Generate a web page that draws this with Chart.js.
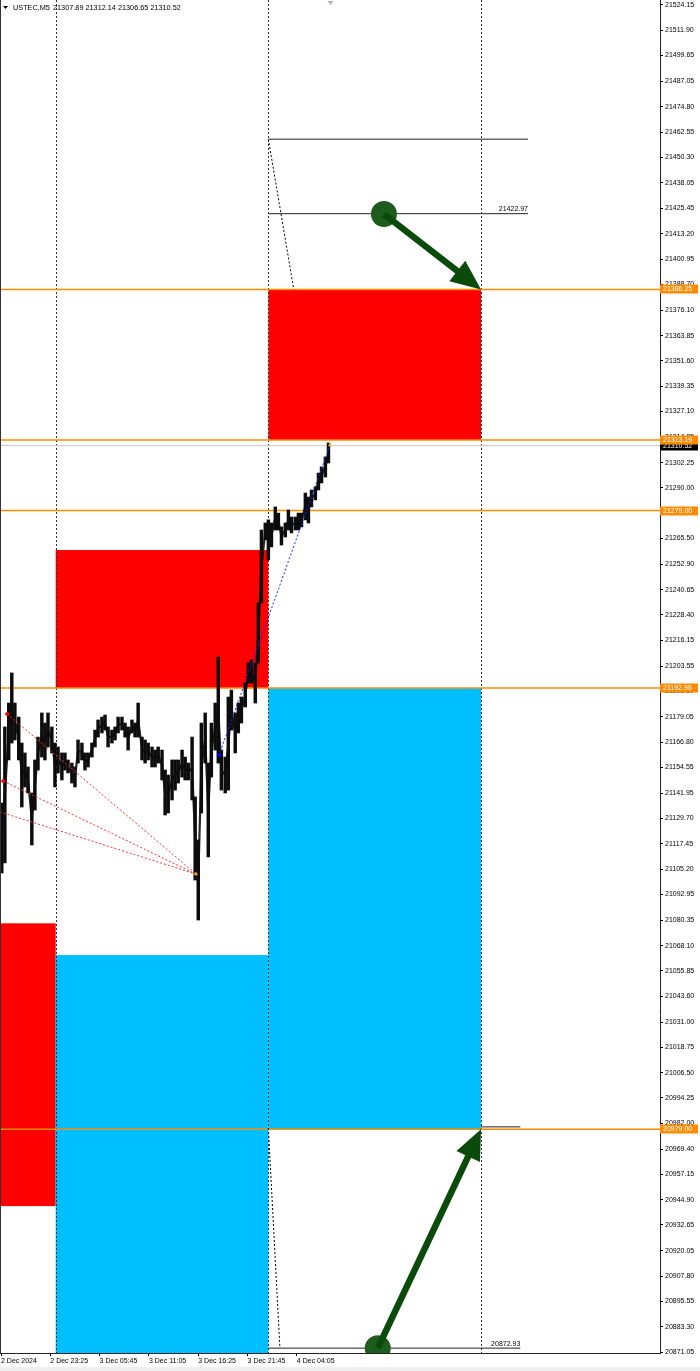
<!DOCTYPE html>
<html><head><meta charset="utf-8">
<script src="https://cdn.jsdelivr.net/npm/chart.js@4.4.1/dist/chart.umd.min.js"></script>
<style>html,body{margin:0;padding:0;background:#fff;overflow:hidden}#wrap{position:relative;width:700px;height:1371px}</style>
</head><body><div id="wrap"><canvas id="c" width="700" height="1371"></canvas></div>
<script>
// ---------- data ----------
const symbolName = 'USTEC,M5';
const lastOHLC = [21307.89, 21312.14, 21306.65, 21310.52];

const yTickValues = [21524.15,21511.90,21499.65,21487.05,21474.80,21462.55,21450.30,21438.05,21425.45,21413.20,21400.95,21388.70,21376.10,21363.85,21351.60,21339.35,21327.10,21314.85,21302.25,21290.00,21277.75,21265.50,21252.90,21240.65,21228.40,21216.15,21203.55,21191.30,21179.05,21166.80,21154.55,21141.95,21129.70,21117.45,21105.20,21092.95,21080.35,21068.10,21055.85,21043.60,21031.00,21018.75,21006.50,20994.25,20982.00,20969.40,20957.15,20944.90,20932.65,20920.05,20907.80,20895.55,20883.30,20871.05];

const xTickBars = [0,64,128,192,256,320,384];
const xTickLabels = ['2 Dec 2024','2 Dec 23:25','3 Dec 05:45','3 Dec 11:05','3 Dec 16:25','3 Dec 21:45','4 Dec 04:05'];
const daySeparatorBars = [71,347,623];

const priceBars = [1,5,10,14,18,23,27,31,35,40,44,48,53,57,61,66,70,74,79,83,87,92,96,100,105,109,113,118,122,126,131,135,139,144,148,152,157,161,165,170,174,178,183,187,191,196,200,204,209,213,217,222,226,230,235,239,243,248,252,256,260,265,269,273,278,282,286,291,295,299,304,308,312,317,321,325,330,334,338,343,347,351,356,360,364,369,373,377,382,386,390,395,399,403,408,412,416,421,425];
const priceHigh = [21137.2,21174.1,21185.7,21200.3,21185.7,21178.9,21166.3,21161.5,21154.7,21142.1,
21158.1,21169.2,21180.9,21176.0,21180.9,21174.1,21166.3,21164.4,21161.5,21161.5,
21158.1,21156.6,21154.7,21167.8,21166.3,21161.5,21161.5,21166.3,21172.6,21177.5,
21178.9,21179.9,21174.1,21172.6,21174.1,21178.9,21178.9,21176.0,21174.1,21177.5,
21176.0,21185.7,21169.2,21167.8,21166.3,21164.4,21162.9,21164.4,21162.9,21153.2,
21150.8,21158.1,21158.1,21158.1,21162.9,21159.5,21156.6,21169.2,21140.2,21119.3,
21176.0,21180.9,21156.6,21176.0,21185.7,21208.0,21162.9,21159.5,21188.6,21192.0,
21180.9,21185.7,21188.6,21195.4,21205.1,21206.6,21205.1,21234.2,21269.6,21273.0,
21274.5,21273.0,21280.8,21277.8,21271.1,21273.0,21279.3,21275.9,21275.9,21277.8,
21277.8,21287.5,21285.6,21289.0,21290.5,21297.2,21300.2,21305.0,21311.8];
const priceLow = [21103.3,21108.2,21158.1,21166.3,21167.8,21158.1,21135.3,21145.0,21142.1,21116.9,
21133.8,21153.2,21159.5,21158.1,21164.4,21161.5,21145.0,21151.8,21148.4,21153.2,
21151.8,21146.9,21145.0,21156.6,21158.1,21153.2,21154.7,21159.5,21164.4,21169.2,
21171.2,21172.6,21164.4,21166.3,21167.8,21171.2,21172.6,21169.2,21162.9,21171.2,
21169.2,21169.2,21158.1,21156.6,21158.1,21154.7,21154.7,21156.6,21148.4,21131.4,
21132.4,21138.7,21143.5,21146.9,21149.8,21148.4,21148.4,21138.7,21099.9,21080.5,
21132.4,21156.6,21111.1,21149.8,21162.9,21156.6,21143.5,21142.1,21143.5,21172.6,
21161.5,21171.2,21176.0,21183.8,21195.4,21195.4,21185.7,21205.1,21234.2,21264.8,
21255.1,21261.4,21269.6,21269.6,21262.3,21266.2,21269.6,21268.2,21269.6,21269.6,
21271.1,21274.5,21273.0,21280.8,21284.2,21289.0,21292.4,21295.3,21302.1];

const levelPrices = [21386.25, 21313.19, 21279.00, 21192.96, 20979.00];
const bidPrice = 21310.52;

const zoneStartBar = [347, 71, -10, 71, 347];
const zoneEndBar   = [623, 347, 71, 347, 623];
const zoneTop      = [21386.25, 21259.9, 21078.9, 21063.5, 21192.96];
const zoneBottom   = [21313.19, 21192.96, 20941.8, 20850.0, 20979.00];
const zoneType     = ['sell','sell','sell','buy','buy'];

const trendStartBar = [347, 347, 623, 347];
const trendEndBar   = [684, 684, 674, 674];
const trendPrice    = [21459.1, 21422.97, 20980.2, 20872.93];
const trendText     = ['', '21422.97', '', '20872.93'];

const connectorFrom = [[347, 21459.1], [347, 20979.6]];
const connectorTo   = [[380, 21386.25], [362, 20872.93]];

const redLineFrom = [[8, 21180.4], [3, 21147.9], [-1.3, 21132.9]];
const redLineTo   = [253, 21102.8];
const blueLineFrom = [283, 21160.5];
const blueLineTo   = [427, 21310.8];

const arrowFrom = [[497, 21422.8], [489, 20872.93]];
const arrowTo   = [[623, 21386.25], [623, 20979.00]];

const X_MIN = -1.3, X_MAX = 855.3;
const Y_MIN = 20870.57, Y_MAX = 21526.57;

// ---------- chart ----------
const FONT = 'Liberation Sans, Arial, sans-serif';
const hline = (p, x0 = X_MIN, x1 = X_MAX) => [{x: x0, y: p}, {x: x1, y: p}];
const seg = (a, b) => [{x: a[0], y: a[1]}, {x: b[0], y: b[1]}];

const datasets = [];
datasets.push({type: 'bar', label: 'USTEC M5', data: priceBars.map((b, i) => ({x: b, y: [priceLow[i], priceHigh[i]]})),
  backgroundColor: '#0c0c0c', borderWidth: 0, barThickness: 2.8, order: 10});
datasets.push({type: 'line', data: priceBars.map((b, i) => ({x: b, y: (priceLow[i] + priceHigh[i]) / 2})),
  borderColor: 'rgba(15,15,15,0.9)', borderWidth: 2.2, pointRadius: 0, order: 11});
levelPrices.forEach(p => datasets.push({type: 'line', data: hline(p), borderColor: '#ff8c00', borderWidth: 1.5, pointRadius: 0, order: 20}));
datasets.push({type: 'line', data: hline(bidPrice), borderColor: '#c8c8c8', borderWidth: 1, pointRadius: 0, order: 21});
trendPrice.forEach((p, i) => datasets.push({type: 'line', data: hline(p, trendStartBar[i], trendEndBar[i]), borderColor: '#222', borderWidth: 1, pointRadius: 0, order: 3}));
connectorFrom.forEach((a, i) => datasets.push({type: 'line', data: seg(a, connectorTo[i]), borderColor: '#000', borderWidth: 1, borderDash: [2, 2], pointRadius: 0, order: 2}));
redLineFrom.forEach(a => datasets.push({type: 'line', data: seg(a, redLineTo), borderColor: '#ff3030', borderWidth: 1, borderDash: [2, 2], pointRadius: 0, order: 2}));
datasets.push({type: 'line', data: seg(blueLineFrom, blueLineTo), borderColor: '#2020ff', borderWidth: 1, borderDash: [2, 2], pointRadius: 0, order: 2});
datasets.push({type: 'line', showLine: false, data: [{x: redLineFrom[0][0], y: redLineFrom[0][1]}, {x: redLineFrom[1][0], y: redLineFrom[1][1]}],
  pointStyle: 'rectRot', pointRadius: 2.5, pointBackgroundColor: '#ff0000', pointBorderWidth: 0, order: 1});
datasets.push({type: 'line', showLine: false, data: [{x: blueLineFrom[0], y: blueLineFrom[1]}],
  pointStyle: 'rectRot', pointRadius: 2.5, pointBackgroundColor: '#0000ff', pointBorderWidth: 0, order: 1});
datasets.push({type: 'line', showLine: false, data: [{x: redLineTo[0], y: redLineTo[1]}, {x: blueLineTo[0], y: blueLineTo[1]}],
  pointStyle: 'triangle', pointRadius: 2.5, pointBackgroundColor: '#f2b233', pointBorderWidth: 0, order: 1});

const backgroundPlugin = {
  id: 'zones',
  beforeDatasetsDraw(chart) {
    const {ctx, chartArea: a, scales: {x, y}} = chart;
    ctx.save();
    ctx.beginPath(); ctx.rect(a.left, a.top, a.right - a.left, a.bottom - a.top); ctx.clip();
    zoneType.forEach((t, i) => {
      const x1 = x.getPixelForValue(zoneStartBar[i]), x2 = x.getPixelForValue(zoneEndBar[i]);
      const y1 = y.getPixelForValue(zoneTop[i]), y2 = y.getPixelForValue(zoneBottom[i]);
      ctx.fillStyle = t === 'sell' ? '#ff0000' : '#00bfff';
      ctx.fillRect(x1, y1, x2 - x1, y2 - y1);
    });
    ctx.strokeStyle = '#333'; ctx.lineWidth = 1; ctx.setLineDash([2, 2]);
    daySeparatorBars.forEach(b => {
      const px = Math.round(x.getPixelForValue(b)) + 0.5;
      ctx.beginPath(); ctx.moveTo(px, a.top); ctx.lineTo(px, a.bottom); ctx.stroke();
    });
    ctx.restore();
  }
};

function drawArrow(ctx, x0, y0, x1, y1) {
  const ang = Math.atan2(y1 - y0, x1 - x0);
  const headLen = 30, headW = 13;
  const bx = x1 - headLen * Math.cos(ang), by = y1 - headLen * Math.sin(ang);
  ctx.strokeStyle = '#0a4a0a'; ctx.fillStyle = '#0a4a0a';
  ctx.lineWidth = 6.5; ctx.lineCap = 'butt';
  ctx.beginPath(); ctx.moveTo(x0, y0); ctx.lineTo(bx + 2 * Math.cos(ang), by + 2 * Math.sin(ang)); ctx.stroke();
  const nx = -Math.sin(ang), ny = Math.cos(ang);
  ctx.beginPath(); ctx.moveTo(x1, y1);
  ctx.lineTo(bx + nx * headW, by + ny * headW); ctx.lineTo(bx - nx * headW, by - ny * headW);
  ctx.closePath(); ctx.fill();
}

const overlayPlugin = {
  id: 'overlay',
  afterDatasetsDraw(chart) {
    const {ctx, chartArea: a, scales: {x, y}} = chart;
    ctx.save();
    ctx.beginPath(); ctx.rect(a.left, a.top, a.right - a.left, a.bottom - a.top); ctx.clip();
    ctx.font = '7px ' + FONT; ctx.fillStyle = '#000'; ctx.textAlign = 'right'; ctx.textBaseline = 'alphabetic';
    trendText.forEach((t, i) => {
      if (!t) return;
      ctx.fillText(t, x.getPixelForValue(trendEndBar[i]), y.getPixelForValue(trendPrice[i]) - 2.5);
    });
    arrowFrom.forEach((f, i) => {
      const x0 = x.getPixelForValue(f[0]), y0 = y.getPixelForValue(f[1]);
      const x1 = x.getPixelForValue(arrowTo[i][0]), y1 = y.getPixelForValue(arrowTo[i][1]);
      ctx.fillStyle = '#1d5c1d';
      ctx.beginPath(); ctx.arc(x0, y0, 13, 0, Math.PI * 2); ctx.fill();
      drawArrow(ctx, x0, y0, x1, y1);
    });
    ctx.fillStyle = '#000';
    ctx.beginPath(); ctx.moveTo(3, 6); ctx.lineTo(8, 6); ctx.lineTo(5.5, 9); ctx.closePath(); ctx.fill();
    ctx.font = '7.3px ' + FONT; ctx.textAlign = 'left'; ctx.textBaseline = 'middle';
    ctx.fillText(symbolName, 13, 8);
    ctx.fillText(lastOHLC.map(v => v.toFixed(2)).join(' '), 53, 8);
    const sx = x.getPixelForValue(priceBars[priceBars.length - 1]) + 2;
    ctx.fillStyle = '#b4b4b4';
    ctx.beginPath(); ctx.moveTo(sx - 3, 1); ctx.lineTo(sx + 3, 1); ctx.lineTo(sx, 5); ctx.closePath(); ctx.fill();
    ctx.restore();
  },
  afterDraw(chart) {
    const {ctx, chartArea: a, scales: {y}} = chart;
    ctx.save();
    ctx.font = '7px ' + FONT; ctx.textAlign = 'left'; ctx.textBaseline = 'middle';
    const tag = (p, bg) => {
      const py = Math.round(y.getPixelForValue(p));
      ctx.fillStyle = bg; ctx.fillRect(a.right, py - 4.5, 38, 9);
      ctx.fillStyle = '#fff'; ctx.fillText(p.toFixed(2), a.right + 3, py + 0.5);
    };
    tag(bidPrice, '#000');
    levelPrices.forEach(p => tag(p, '#ff8c00'));
    ctx.fillStyle = '#333'; ctx.fillRect(0, 0, 1, a.bottom);
    ctx.fillStyle = '#efefef'; ctx.fillRect(0, 1367, chart.width, chart.height - 1367);
    ctx.restore();
  }
};

new Chart(document.getElementById('c'), {
  type: 'bar',
  data: {datasets},
  options: {
    responsive: false, animation: false, events: [],
    layout: {padding: 0, autoPadding: false},
    plugins: {legend: {display: false}, tooltip: {enabled: false}},
    scales: {
      x: {
        type: 'linear', min: X_MIN, max: X_MAX, offset: false,
        afterFit(s) { s.height = 18; s.paddingLeft = 0; s.paddingRight = 0; },
        afterBuildTicks(s) { s.ticks = xTickBars.map(v => ({value: v})); },
        ticks: {autoSkip: false, maxRotation: 0, minRotation: 0, align: 'start', padding: 1, color: '#000',
          font: {family: FONT, size: 7}, callback: v => { const i = xTickBars.indexOf(v); return i >= 0 ? xTickLabels[i] : ''; }},
        grid: {drawOnChartArea: false, offset: false, tickLength: 3, color: '#000'},
        border: {color: '#222'}
      },
      y: {
        type: 'linear', position: 'right', min: Y_MIN, max: Y_MAX,
        afterFit(s) { s.width = 40; s.paddingTop = 0; s.paddingBottom = 0; },
        afterBuildTicks(s) { s.ticks = yTickValues.map(v => ({value: v})); },
        ticks: {autoSkip: false, padding: 2, color: '#000', font: {family: FONT, size: 7}, callback: v => Number(v).toFixed(2)},
        grid: {drawOnChartArea: false, tickLength: 3, color: '#000'},
        border: {color: '#222'}
      }
    }
  },
  plugins: [backgroundPlugin, overlayPlugin]
});
</script></body></html>
